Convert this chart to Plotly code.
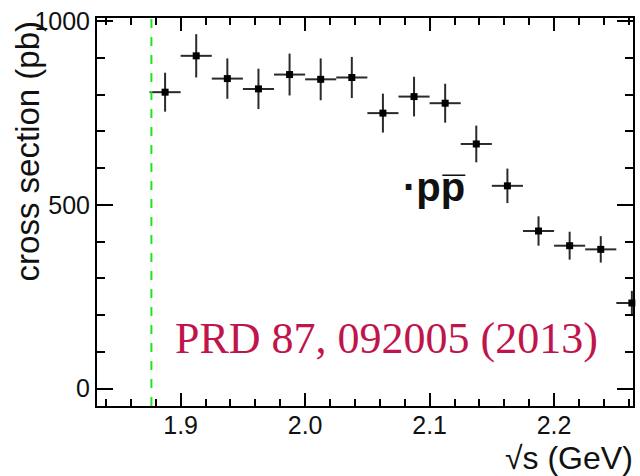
import plotly.graph_objects as go

# Data
sqrt_s = [1.8875, 1.9125, 1.9375, 1.9625, 1.9875, 2.0125, 2.0375, 2.0625,
          2.0875, 2.1125, 2.1375, 2.1625, 2.1875, 2.2125, 2.2375, 2.2625]
xsec = [807, 906, 844, 816, 855, 842, 847, 750,
        795, 777, 666, 552, 429, 389, 379, 233]
xsec_err = [53, 59, 55, 55, 57, 57, 56, 53,
            54, 53, 50, 47, 40, 38, 36, 33]
bin_half_width = [0.0125] * len(sqrt_s)
threshold = 1.8765  # 2 m_p

x_ticks = [1.9, 2.0, 2.1, 2.2]
x_ticklabels = ["1.9", "2.0", "2.1", "2.2"]
y_ticks = [0, 500, 1000]
y_ticklabels = ["0", "500", "1000"]

FONT = "Liberation Sans, Arial, sans-serif"

fig = go.Figure()

fig.add_trace(go.Scatter(
    x=sqrt_s, y=xsec, mode="markers",
    marker=dict(symbol="square", size=7, color="black"),
    error_y=dict(type="data", array=xsec_err, color="#2a2a2a", thickness=2, width=0),
    error_x=dict(type="data", array=bin_half_width, color="#2a2a2a", thickness=2, width=0),
    showlegend=False, cliponaxis=False,
))

fig.add_shape(type="line", x0=threshold, x1=threshold, y0=0, y1=1,
              xref="x", yref="paper",
              line=dict(color="#22e022", width=2, dash="dash"))

fig.update_xaxes(
    range=[1.8328, 2.2634], tickvals=x_ticks, ticktext=x_ticklabels,
    ticks="inside", ticklen=13, tickwidth=2, tickcolor="black",
    showline=True, linecolor="black", linewidth=2, mirror="allticks",
    showgrid=False, zeroline=False, ticklabelstandoff=-4,
    tickfont=dict(family=FONT, size=25, color="#111"),
    minor=dict(ticks="inside", ticklen=7, tickwidth=2, tickcolor="black", dtick=0.02, tick0=1.8, showgrid=False),
)
fig.update_yaxes(
    range=[-47.5, 1009], tickvals=y_ticks, ticktext=y_ticklabels,
    ticks="inside", ticklen=16, tickwidth=2, tickcolor="black",
    showline=True, linecolor="black", linewidth=2, mirror="allticks",
    showgrid=False, zeroline=False,
    tickfont=dict(family=FONT, size=25, color="#111"),
    minor=dict(ticks="inside", ticklen=8, tickwidth=2, tickcolor="black", dtick=100, showgrid=False),
)

fig.add_annotation(text="cross section (pb)", textangle=-90,
                   xref="paper", yref="paper", x=-0.13, y=0.657,
                   xanchor="center", yanchor="middle", showarrow=False,
                   font=dict(family=FONT, size=33, color="#111"))
fig.add_annotation(text="√s (GeV)",
                   xref="paper", yref="paper", x=1.004, y=-0.133,
                   xanchor="right", yanchor="middle", showarrow=False,
                   font=dict(family=FONT, size=32, color="#111"))
fig.add_annotation(text="<b>·pp\u0305</b>",
                   xref="x", yref="y", x=2.104, y=548,
                   xanchor="center", yanchor="middle", showarrow=False,
                   font=dict(family=FONT, size=40, color="#111"))
fig.add_annotation(text="PRD 87, 092005 (2013)",
                   xref="x", yref="y", x=2.0654, y=137,
                   xanchor="center", yanchor="middle", showarrow=False,
                   font=dict(family="Liberation Serif, Times New Roman, serif", size=44, color="#c0154c"))

fig.update_layout(
    width=640, height=476,
    margin=dict(l=97, r=5, t=18, b=70),
    paper_bgcolor="white", plot_bgcolor="white",
)

fig.write_html("out.html")
